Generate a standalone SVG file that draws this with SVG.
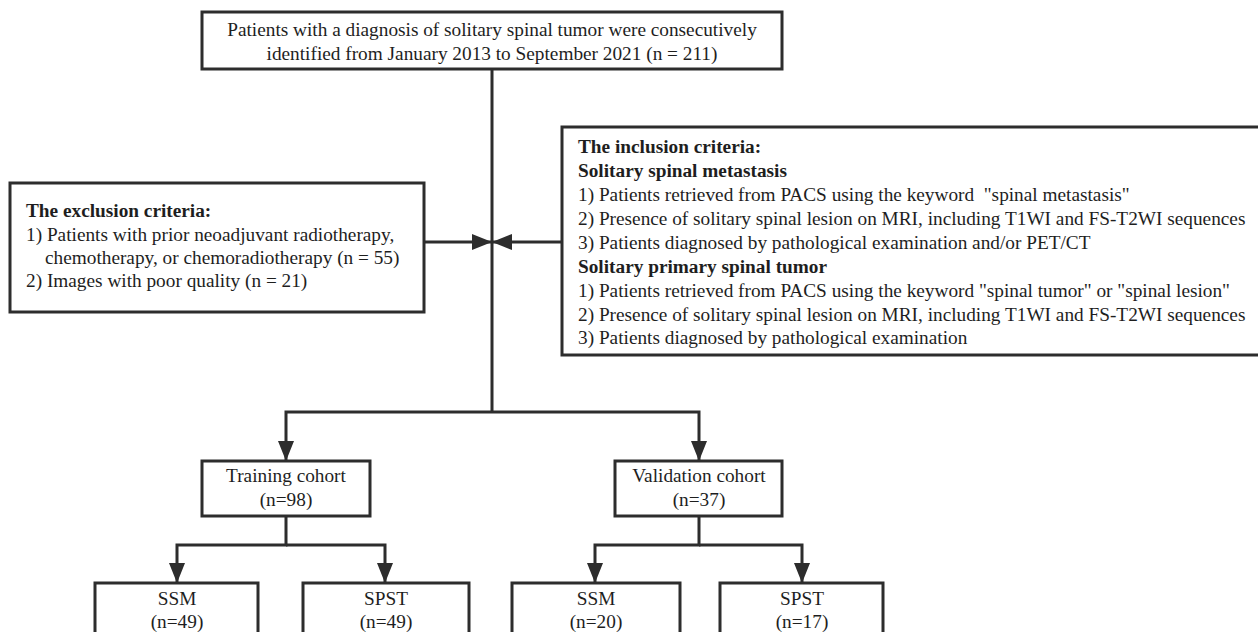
<svg xmlns="http://www.w3.org/2000/svg" width="1258" height="632" viewBox="0 0 1258 632">
<defs>
<style>
.box{fill:#fff;stroke:#2d2d2d;stroke-width:3}
.ln{fill:none;stroke:#2d2d2d;stroke-width:3}
.t{font-family:'Liberation Serif','Times New Roman',serif;font-size:19.3px;fill:#1e1e1e}
.c{text-anchor:middle}
.b{font-weight:bold}
.pre{white-space:pre}
</style>
<marker id="ah" viewBox="0 0 20 16" refX="20" refY="8" markerWidth="20" markerHeight="16" markerUnits="userSpaceOnUse" orient="auto">
<path d="M0,0 L20,8 L0,16 z" fill="#2d2d2d"/>
</marker>
</defs>
<rect width="1258" height="632" fill="#fff"/>
<g id="connectors">
<path class="ln" d="M492,69 V412"/>
<path class="ln" d="M424,242 H492" marker-end="url(#ah)"/>
<path class="ln" d="M562,242 H492" marker-end="url(#ah)"/>
<path class="ln" d="M492,412 H286 V461" marker-end="url(#ah)"/>
<path class="ln" d="M492,412 H699 V461" marker-end="url(#ah)"/>
<path class="ln" d="M286,516 V545 H177 V583" marker-end="url(#ah)"/>
<path class="ln" d="M286,545 H385 V583" marker-end="url(#ah)"/>
<path class="ln" d="M699,516 V545 H595 V583" marker-end="url(#ah)"/>
<path class="ln" d="M699,545 H802 V583" marker-end="url(#ah)"/>
</g>
<g id="top">
<rect class="box" x="202" y="12" width="580" height="57"/>
<text class="t c" x="492" y="36">Patients with a diagnosis of solitary spinal tumor were consecutively</text>
<text class="t c" x="492" y="60">identified from January 2013 to September 2021 (n = 211)</text>
</g>
<g id="exclusion">
<rect class="box" x="10" y="183" width="414" height="129"/>
<text class="t b" x="26" y="217">The exclusion criteria:</text>
<text class="t" x="26" y="241">1) Patients with prior neoadjuvant radiotherapy,</text>
<text class="t" x="45" y="264">chemotherapy, or chemoradiotherapy (n = 55)</text>
<text class="t" x="26" y="287">2) Images with poor quality (n = 21)</text>
</g>
<g id="inclusion">
<rect class="box" x="562" y="127" width="702" height="228"/>
<text class="t b" x="578" y="153">The inclusion criteria:</text>
<text class="t b" x="578" y="177">Solitary spinal metastasis</text>
<text class="t pre" x="578" y="201">1) Patients retrieved from PACS using the keyword  "spinal metastasis"</text>
<text class="t" x="578" y="225">2) Presence of solitary spinal lesion on MRI, including T1WI and FS-T2WI sequences</text>
<text class="t" x="578" y="249">3) Patients diagnosed by pathological examination and/or PET/CT</text>
<text class="t b" x="578" y="273">Solitary primary spinal tumor</text>
<text class="t" x="578" y="297">1) Patients retrieved from PACS using the keyword "spinal tumor" or "spinal lesion"</text>
<text class="t" x="578" y="321">2) Presence of solitary spinal lesion on MRI, including T1WI and FS-T2WI sequences</text>
<text class="t" x="578" y="344">3) Patients diagnosed by pathological examination</text>
</g>
<g id="training">
<rect class="box" x="202" y="461" width="168" height="55"/>
<text class="t c" x="286" y="482">Training cohort</text>
<text class="t c" x="286" y="506">(n=98)</text>
</g>
<g id="validation">
<rect class="box" x="615" y="461" width="167" height="55"/>
<text class="t c" x="699" y="482">Validation cohort</text>
<text class="t c" x="699" y="506">(n=37)</text>
</g>
<g id="ssm-train">
<rect class="box" x="95" y="583" width="163" height="60"/>
<text class="t c" x="177" y="605">SSM</text>
<text class="t c" x="177" y="628">(n=49)</text>
</g>
<g id="spst-train">
<rect class="box" x="303" y="583" width="166" height="60"/>
<text class="t c" x="386" y="605">SPST</text>
<text class="t c" x="386" y="628">(n=49)</text>
</g>
<g id="ssm-val">
<rect class="box" x="512" y="583" width="168" height="60"/>
<text class="t c" x="596" y="605">SSM</text>
<text class="t c" x="596" y="628">(n=20)</text>
</g>
<g id="spst-val">
<rect class="box" x="720" y="583" width="163" height="60"/>
<text class="t c" x="802" y="605">SPST</text>
<text class="t c" x="802" y="628">(n=17)</text>
</g>
</svg>
